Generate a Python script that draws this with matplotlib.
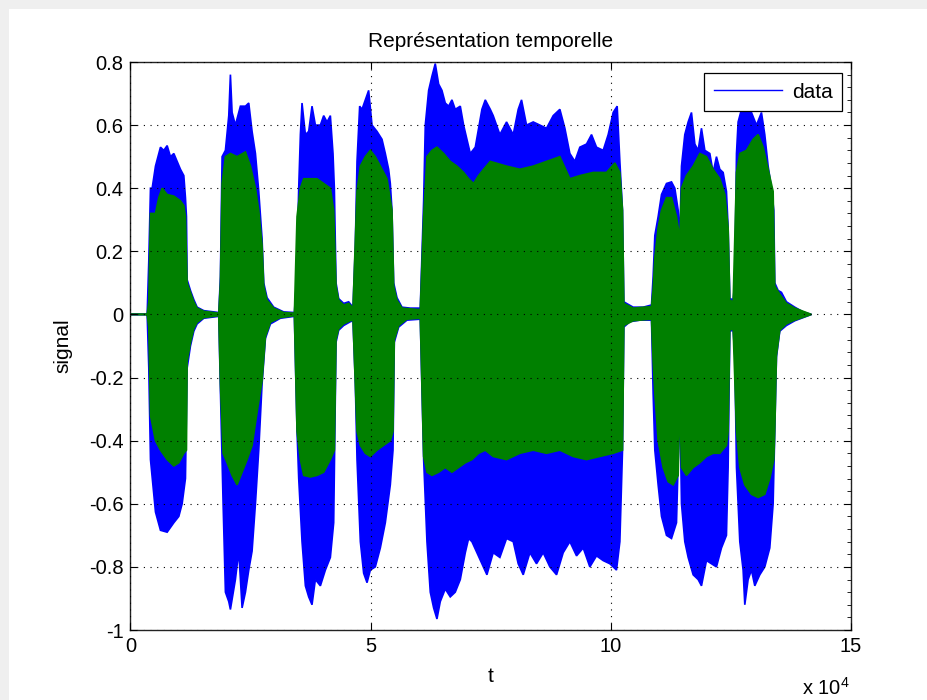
import numpy as np
import matplotlib
matplotlib.use("Agg")
import matplotlib.pyplot as plt
from matplotlib.lines import Line2D
from matplotlib.patches import Rectangle
from matplotlib.ticker import MultipleLocator

# envelopes: (t in 1e4 samples, amplitude)
blue_top = [(0, 0), (0.347, 0), (0.381, 0.17), (0.416, 0.40), (0.451, 0.40), (0.520, 0.47), (0.624, 0.53), (0.693, 0.52),
            (0.763, 0.535), (0.832, 0.50), (0.902, 0.51), (0.971, 0.485), (1.040, 0.46), (1.110, 0.44), (1.144, 0.37),
            (1.165, 0.31), (1.179, 0.11), (1.248, 0.076), (1.318, 0.047), (1.387, 0.023), (1.526, 0.012), (1.838, 0.006),
            (1.872, 0.12), (1.907, 0.50), (1.976, 0.52), (2.046, 0.63), (2.080, 0.76), (2.115, 0.64), (2.184, 0.60),
            (2.288, 0.66), (2.393, 0.66), (2.462, 0.67), (2.531, 0.58), (2.601, 0.51), (2.670, 0.39), (2.739, 0.24),
            (2.774, 0.10), (2.843, 0.053), (2.982, 0.023), (3.190, 0.008), (3.412, 0.006),
            (3.454, 0.10), (3.502, 0.40), (3.537, 0.57), (3.571, 0.67), (3.641, 0.57), (3.710, 0.58), (3.779, 0.66),
            (3.849, 0.60), (3.953, 0.60), (4.022, 0.63), (4.092, 0.61), (4.161, 0.63), (4.216, 0.51), (4.244, 0.40),
            (4.279, 0.10), (4.334, 0.05), (4.438, 0.035), (4.542, 0.04), (4.632, 0.023),
            (4.681, 0.22), (4.716, 0.485), (4.771, 0.66), (4.820, 0.65), (4.889, 0.68), (4.958, 0.71), (5.028, 0.60),
            (5.132, 0.58), (5.236, 0.555), (5.305, 0.51), (5.374, 0.46), (5.409, 0.415), (5.444, 0.33), (5.479, 0.10),
            (5.548, 0.053), (5.652, 0.023), (5.825, 0.02), (6.033, 0.02),
            (6.103, 0.36), (6.137, 0.60), (6.207, 0.71), (6.276, 0.755), (6.345, 0.795), (6.415, 0.73), (6.484, 0.71),
            (6.553, 0.67), (6.623, 0.66), (6.692, 0.68), (6.761, 0.65), (6.866, 0.66), (6.935, 0.60), (7.004, 0.555),
            (7.074, 0.51), (7.178, 0.53), (7.247, 0.59), (7.316, 0.65), (7.386, 0.68), (7.490, 0.65), (7.551, 0.63),
            (7.690, 0.57), (7.829, 0.61), (7.968, 0.57), (8.072, 0.65), (8.141, 0.68), (8.245, 0.60), (8.384, 0.61),
            (8.523, 0.60), (8.661, 0.59), (8.800, 0.63), (8.939, 0.65), (9.043, 0.59), (9.147, 0.51), (9.251, 0.485),
            (9.355, 0.53), (9.494, 0.54), (9.598, 0.57), (9.702, 0.53), (9.841, 0.52), (9.945, 0.57), (10.049, 0.64),
            (10.132, 0.66), (10.188, 0.485), (10.243, 0.33), (10.271, 0.04), (10.326, 0.035), (10.465, 0.023),
            (10.673, 0.023), (10.847, 0.03),
            (10.881, 0.12), (10.916, 0.25), (10.985, 0.31), (11.055, 0.38), (11.159, 0.415), (11.263, 0.42),
            (11.332, 0.40), (11.402, 0.33), (11.436, 0.24), (11.471, 0.47), (11.540, 0.57), (11.610, 0.61),
            (11.679, 0.64), (11.749, 0.54), (11.818, 0.52), (11.887, 0.59), (11.957, 0.52), (12.061, 0.51),
            (12.130, 0.45), (12.199, 0.50), (12.269, 0.46), (12.338, 0.45), (12.407, 0.39), (12.442, 0.275),
            (12.477, 0.05), (12.546, 0.047),
            (12.581, 0.10), (12.616, 0.51), (12.650, 0.61), (12.720, 0.65), (12.824, 0.65), (12.928, 0.64),
            (13.032, 0.60), (13.136, 0.64), (13.205, 0.57), (13.275, 0.47), (13.344, 0.40), (13.393, 0.33),
            (13.413, 0.10), (13.483, 0.076), (13.552, 0.07), (13.656, 0.04), (13.830, 0.023), (14.003, 0.008),
            (14.177, 0.0)]

blue_bot = [(0, 0), (0.347, 0), (0.381, -0.17), (0.416, -0.46), (0.520, -0.626), (0.624, -0.684), (0.763, -0.69),
            (0.902, -0.66), (1.006, -0.64), (1.075, -0.60), (1.144, -0.52), (1.179, -0.17), (1.248, -0.10),
            (1.318, -0.053), (1.387, -0.03), (1.526, -0.012), (1.838, -0.006),
            (1.872, -0.24), (1.928, -0.60), (1.976, -0.88), (2.046, -0.91), (2.080, -0.935), (2.184, -0.84),
            (2.254, -0.75), (2.323, -0.93), (2.393, -0.88), (2.462, -0.81), (2.531, -0.75), (2.601, -0.60),
            (2.670, -0.43), (2.739, -0.22), (2.809, -0.076), (2.913, -0.03), (3.121, -0.012), (3.412, -0.006),
            (3.467, -0.37), (3.502, -0.52), (3.571, -0.72), (3.641, -0.86), (3.710, -0.895), (3.779, -0.92),
            (3.849, -0.84), (3.953, -0.86), (4.057, -0.81), (4.161, -0.77), (4.230, -0.66), (4.279, -0.088),
            (4.334, -0.05), (4.438, -0.035), (4.577, -0.023), (4.632, -0.02),
            (4.681, -0.22), (4.716, -0.46), (4.785, -0.72), (4.854, -0.82), (4.924, -0.85), (4.993, -0.81),
            (5.097, -0.80), (5.201, -0.74), (5.305, -0.66), (5.409, -0.54), (5.465, -0.43), (5.492, -0.088),
            (5.583, -0.04), (5.756, -0.018), (6.033, -0.015),
            (6.103, -0.46), (6.172, -0.72), (6.241, -0.88), (6.311, -0.93), (6.380, -0.965), (6.449, -0.91),
            (6.553, -0.87), (6.657, -0.895), (6.761, -0.88), (6.866, -0.84), (6.970, -0.755), (7.039, -0.71),
            (7.108, -0.72), (7.212, -0.755), (7.316, -0.79), (7.420, -0.825), (7.551, -0.755), (7.690, -0.77),
            (7.829, -0.71), (7.968, -0.72), (8.072, -0.79), (8.176, -0.825), (8.315, -0.755), (8.453, -0.79),
            (8.592, -0.755), (8.731, -0.80), (8.870, -0.825), (9.008, -0.755), (9.147, -0.72), (9.286, -0.765),
            (9.425, -0.74), (9.563, -0.80), (9.702, -0.765), (9.841, -0.78), (9.980, -0.79), (10.118, -0.81),
            (10.188, -0.72), (10.243, -0.43), (10.271, -0.04), (10.396, -0.023), (10.604, -0.018), (10.847, -0.018),
            (10.881, -0.25), (10.916, -0.43), (10.985, -0.54), (11.055, -0.64), (11.159, -0.70), (11.263, -0.71),
            (11.367, -0.66), (11.436, -0.275), (11.471, -0.60), (11.540, -0.72), (11.610, -0.77), (11.714, -0.825),
            (11.818, -0.84), (11.887, -0.86), (11.991, -0.78), (12.095, -0.79), (12.199, -0.80), (12.303, -0.74),
            (12.407, -0.70), (12.442, -0.485), (12.477, -0.053), (12.546, -0.05),
            (12.581, -0.13), (12.616, -0.485), (12.685, -0.72), (12.754, -0.81), (12.789, -0.92), (12.858, -0.84),
            (12.928, -0.81), (12.997, -0.86), (13.101, -0.825), (13.205, -0.80), (13.309, -0.74), (13.379, -0.60),
            (13.413, -0.37), (13.448, -0.135), (13.517, -0.053), (13.656, -0.035), (13.830, -0.020), (14.177, 0.0)]

green_top = [(0, 0), (0.347, 0), (0.381, 0.04), (0.416, 0.32), (0.520, 0.32), (0.589, 0.37), (0.659, 0.40),
             (0.763, 0.38), (0.902, 0.375), (1.040, 0.36), (1.110, 0.345), (1.144, 0.31), (1.179, 0.10),
             (1.248, 0.07), (1.318, 0.04), (1.387, 0.02), (1.526, 0.01), (1.838, 0.004),
             (1.872, 0.10), (1.907, 0.415), (1.976, 0.50), (2.080, 0.51), (2.219, 0.50), (2.393, 0.515),
             (2.497, 0.47), (2.601, 0.40), (2.670, 0.33), (2.739, 0.22), (2.774, 0.09), (2.843, 0.045),
             (2.982, 0.02), (3.190, 0.006), (3.412, 0.004),
             (3.467, 0.31), (3.537, 0.40), (3.606, 0.43), (3.745, 0.43), (3.883, 0.43), (4.022, 0.415),
             (4.161, 0.40), (4.230, 0.33), (4.279, 0.09), (4.334, 0.045), (4.438, 0.03), (4.542, 0.035),
             (4.632, 0.02),
             (4.716, 0.39), (4.785, 0.47), (4.889, 0.50), (4.993, 0.52), (5.097, 0.50), (5.236, 0.46),
             (5.340, 0.43), (5.444, 0.33), (5.479, 0.09), (5.548, 0.045), (5.652, 0.02), (6.033, 0.015),
             (6.103, 0.31), (6.172, 0.50), (6.276, 0.52), (6.380, 0.53), (6.519, 0.51), (6.657, 0.485),
             (6.796, 0.47), (6.935, 0.45), (7.039, 0.43), (7.143, 0.415), (7.247, 0.44), (7.351, 0.46),
             (7.490, 0.485), (7.829, 0.47), (8.106, 0.46), (8.384, 0.47), (8.661, 0.485), (8.939, 0.50),
             (9.147, 0.43), (9.355, 0.44), (9.633, 0.45), (9.910, 0.45), (10.084, 0.48), (10.188, 0.45),
             (10.243, 0.33), (10.271, 0.035), (10.465, 0.02), (10.847, 0.025),
             (10.881, 0.08), (10.916, 0.18), (10.985, 0.275), (11.055, 0.33), (11.159, 0.37), (11.263, 0.37),
             (11.367, 0.31), (11.436, 0.24), (11.471, 0.40), (11.575, 0.44), (11.714, 0.47), (11.853, 0.51),
             (11.991, 0.50), (12.130, 0.46), (12.269, 0.43), (12.373, 0.38), (12.442, 0.275), (12.477, 0.045),
             (12.546, 0.04),
             (12.616, 0.45), (12.685, 0.51), (12.824, 0.52), (12.962, 0.555), (13.066, 0.57), (13.171, 0.53),
             (13.275, 0.46), (13.379, 0.39), (13.413, 0.09), (13.517, 0.064), (13.656, 0.035), (13.830, 0.02),
             (14.177, 0.0)]

green_bot = [(0, 0), (0.347, 0), (0.381, -0.04), (0.416, -0.32), (0.520, -0.40), (0.624, -0.43), (0.763, -0.46),
             (0.902, -0.48), (1.006, -0.47), (1.110, -0.44), (1.165, -0.43), (1.179, -0.15), (1.248, -0.09),
             (1.318, -0.045), (1.387, -0.025), (1.526, -0.01), (1.838, -0.004),
             (1.872, -0.22), (1.928, -0.44), (2.011, -0.47), (2.115, -0.51), (2.219, -0.54), (2.323, -0.50),
             (2.427, -0.46), (2.531, -0.415), (2.635, -0.31), (2.739, -0.21), (2.809, -0.07), (2.913, -0.025),
             (3.121, -0.01), (3.412, -0.004),
             (3.467, -0.37), (3.537, -0.46), (3.606, -0.51), (3.745, -0.515), (3.883, -0.51), (4.022, -0.50),
             (4.161, -0.46), (4.244, -0.43), (4.279, -0.08), (4.334, -0.045), (4.438, -0.03), (4.577, -0.02),
             (4.632, -0.018),
             (4.716, -0.37), (4.785, -0.415), (4.889, -0.44), (4.993, -0.45), (5.132, -0.43), (5.270, -0.415),
             (5.409, -0.40), (5.465, -0.37), (5.492, -0.08), (5.583, -0.035), (5.756, -0.015), (6.033, -0.012),
             (6.103, -0.45), (6.172, -0.50), (6.276, -0.51), (6.415, -0.50), (6.553, -0.485), (6.692, -0.50),
             (6.831, -0.485), (6.970, -0.47), (7.108, -0.46), (7.247, -0.44), (7.386, -0.43), (7.551, -0.45),
             (7.829, -0.46), (8.106, -0.44), (8.384, -0.43), (8.661, -0.44), (8.939, -0.43), (9.216, -0.45),
             (9.494, -0.46), (9.771, -0.45), (10.049, -0.44), (10.243, -0.43), (10.271, -0.035), (10.465, -0.02),
             (10.847, -0.015),
             (10.881, -0.15), (10.916, -0.25), (10.985, -0.40), (11.089, -0.485), (11.194, -0.53), (11.298, -0.54),
             (11.402, -0.51), (11.436, -0.27), (11.471, -0.485), (11.575, -0.51), (11.714, -0.485), (11.853, -0.47),
             (11.991, -0.45), (12.130, -0.44), (12.269, -0.44), (12.407, -0.415), (12.442, -0.37), (12.477, -0.05),
             (12.546, -0.045),
             (12.616, -0.37), (12.685, -0.485), (12.789, -0.54), (12.928, -0.57), (13.066, -0.58), (13.205, -0.57),
             (13.309, -0.52), (13.393, -0.46), (13.413, -0.37), (13.448, -0.13), (13.517, -0.05), (13.656, -0.03),
             (13.830, -0.018), (14.177, 0.0)]

xtick_vals = [0, 5, 10, 15]
ytick_vals = [-1, -0.8, -0.6, -0.4, -0.2, 0, 0.2, 0.4, 0.6, 0.8]

BLUE = "#0000ff"
GREEN = "#008000"

plt.rcParams["font.family"] = ["Liberation Sans", "DejaVu Sans"]


def draw_env(ax, top, bot, color):
    top = np.array(top)
    bot = np.array(bot)[::-1]
    xs = np.concatenate([top[:, 0], bot[:, 0]]) * 1e4
    ys = np.concatenate([top[:, 1], bot[:, 1]])
    ax.fill(xs, ys, facecolor=color, edgecolor=color, lw=1.2)


fig = plt.figure(figsize=(9.28, 7.0), dpi=100, facecolor="#efefef")
fig.patches.append(Rectangle((9 / 928, 0), 1, 1 - 9 / 700, transform=fig.transFigure,
                             facecolor="white", edgecolor="none", zorder=-10))
ax = fig.add_axes([130.5 / 928, 70 / 700, 720.5 / 928, 568 / 700])

draw_env(ax, blue_top, blue_bot, BLUE)
draw_env(ax, green_top, green_bot, GREEN)

ax.set_xlim(0, 15e4)
ax.set_ylim(-1, 0.8)
ax.set_xticks([v * 1e4 for v in xtick_vals])
ax.set_xticklabels([str(v) for v in xtick_vals])
ax.set_yticks(ytick_vals)
ax.set_yticklabels(["%g" % v for v in ytick_vals])
ax.yaxis.set_minor_locator(MultipleLocator(0.04))
ax.tick_params(which="major", direction="in", top=True, right=True, length=5, width=0.8,
               labelsize=14.5, pad=5)
ax.tick_params(which="minor", direction="in", left=False, right=True, length=3, width=0.6)
ax.grid(True, which="major", color="black", linestyle=(0, (1, 5)), linewidth=0.8)
ax.set_axisbelow(False)
for s in ax.spines.values():
    s.set_linewidth(1.0)
    s.set_color("#222222")

ax.set_title("Représentation temporelle", fontsize=15, pad=11)
ax.set_xlabel("t", fontsize=15, labelpad=8)
ax.set_ylabel("signal", fontsize=15, labelpad=12)
fig.text(802 / 928, 1 - 688 / 700, r"x 10$^{\mathregular{4}}$", fontsize=14.5, va="center", ha="left")

h = Line2D([], [], color=BLUE, lw=1)
leg = ax.legend([h], ["data"], loc="upper right", bbox_to_anchor=(0.9875, 0.98), borderaxespad=0,
                fontsize=15, handlelength=3.3, handletextpad=0.45, fancybox=False, framealpha=1,
                edgecolor="black", borderpad=0.45)
leg.get_frame().set_linewidth(0.9)

fig.savefig("out.png", dpi=100, facecolor=fig.get_facecolor())
